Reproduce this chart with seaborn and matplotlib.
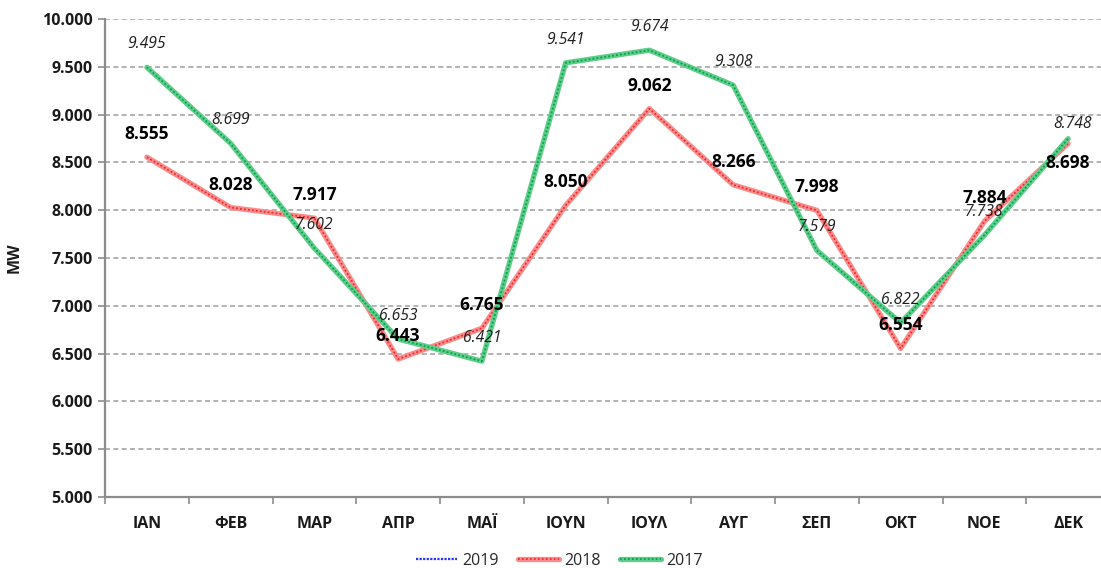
import numpy as np
import pandas as pd
import matplotlib
matplotlib.use("Agg")
import matplotlib.pyplot as plt
from matplotlib.lines import Line2D
from matplotlib.legend_handler import HandlerTuple
from matplotlib.ticker import FixedLocator, FuncFormatter, NullFormatter
import seaborn as sns

# Monthly peak load (MW)
months = ["ΙΑΝ", "ΦΕΒ", "ΜΑΡ", "ΑΠΡ", "ΜΑΪ", "ΙΟΥΝ", "ΙΟΥΛ", "ΑΥΓ", "ΣΕΠ", "ΟΚΤ", "ΝΟΕ", "ΔΕΚ"]
load_2019 = [np.nan] * 12
load_2018 = [8555, 8028, 7917, 6443, 6765, 8050, 9062, 8266, 7998, 6554, 7884, 8698]
load_2017 = [9495, 8699, 7602, 6653, 6421, 9541, 9674, 9308, 7579, 6822, 7738, 8748]
y_ticks = list(range(5000, 10001, 500))

sns.set_theme(style="white")
plt.rcParams["font.family"] = ["Open Sans", "DejaVu Sans"]

fig = plt.figure(figsize=(11.01, 5.68), dpi=100)
ax = fig.add_axes([105 / 1101, 1 - 497 / 568, 1005 / 1101, 478 / 568])

pos = np.arange(len(months))
df18 = pd.DataFrame({"x": pos, "MW": load_2018})
df17 = pd.DataFrame({"x": pos, "MW": load_2017})

# patterned lines: light base with a darker dotted weave on top
c18, c18d = "#fa8c8c", "#f02a2a"
c17, c17d = "#5fcc8a", "#00a548"
lw = 3.8
weave = (0, (1, 1.2))
sns.lineplot(data=df18, x="x", y="MW", color=c18, linewidth=lw, ax=ax, zorder=3)
sns.lineplot(data=df18, x="x", y="MW", color=c18d, linewidth=1.3, linestyle=weave, ax=ax, zorder=3.1)
sns.lineplot(data=df17, x="x", y="MW", color=c17, linewidth=lw, ax=ax, zorder=4)
sns.lineplot(data=df17, x="x", y="MW", color=c17d, linewidth=1.3, linestyle=weave, ax=ax, zorder=4.1)

ax.set_xlim(-0.5, len(months) - 0.5)
ax.set_ylim(5000, 10000)

# axes styling
grid_c = "#a6a6a6"
ax.set_yticks(y_ticks)
ax.yaxis.set_major_formatter(FuncFormatter(lambda v, p: f"{v:,.0f}".replace(",", ".")))
ax.set_xticks(pos)
ax.set_xticklabels(months)
ax.xaxis.set_minor_locator(FixedLocator(np.arange(-0.5, len(months), 1.0)))
ax.xaxis.set_minor_formatter(NullFormatter())
ax.tick_params(axis="x", which="major", length=0, pad=14, labelsize=11.5)
ax.tick_params(axis="x", which="minor", length=5, width=1.2, color="#8c8c8c", bottom=True)
ax.tick_params(axis="y", which="major", length=5, width=1.2, color="#8c8c8c", left=True, pad=4, labelsize=11.5)
for lab in ax.get_xticklabels() + ax.get_yticklabels():
    lab.set_fontweight("bold")
    lab.set_color("#1a1a1a")

for y in y_ticks[1:]:
    ax.axhline(y, color=grid_c, linestyle=(0, (3, 2)), linewidth=1.2, zorder=1)

for side in ["top", "right"]:
    ax.spines[side].set_visible(False)
for side in ["left", "bottom"]:
    ax.spines[side].set_color("#8c8c8c")
    ax.spines[side].set_linewidth(1.6)

ax.set_xlabel("")
ax.set_ylabel("MW", fontsize=11.5, fontweight="bold", color="#1a1a1a")
ax.yaxis.set_label_coords(-82 / 1005, 0.5)

# value labels
for i, v in enumerate(load_2018):
    dy = -20 if months[i] == "ΔΕΚ" else 23
    ax.annotate(f"{v:,}".replace(",", "."), (i, v), xytext=(0, dy), textcoords="offset pixels",
                ha="center", va="center", fontsize=12.5, fontweight="bold", color="#000000", zorder=6)
for i, v in enumerate(load_2017):
    dx = 4 if months[i] == "ΔΕΚ" else 0
    dy = 15 if months[i] == "ΔΕΚ" else 23
    ax.annotate(f"{v:,}".replace(",", "."), (i, v), xytext=(dx, dy), textcoords="offset pixels",
                ha="center", va="center", fontsize=11.3, fontstyle="italic", color="#1e1e1e", zorder=6)

# legend
ax.plot(pos, load_2019, color="#1f3cff", linewidth=1.5)
h19 = Line2D([], [], color="#2233ff", linewidth=1.6, linestyle=(0, (1, 0.6)))
h18 = (Line2D([], [], color=c18, linewidth=lw), Line2D([], [], color=c18d, linewidth=1.3, linestyle=weave))
h17 = (Line2D([], [], color=c17, linewidth=lw), Line2D([], [], color=c17d, linewidth=1.3, linestyle=weave))
fig.legend([h19, h18, h17], ["2019", "2018", "2017"], loc="center", bbox_to_anchor=(559 / 1101, 1 - 561 / 568),
           ncol=3, frameon=False, fontsize=11.5, handlelength=2.6, columnspacing=1.2, handletextpad=0.3,
           handler_map={tuple: HandlerTuple(ndivide=1, pad=0)})

fig.savefig("out.png", dpi=100)
